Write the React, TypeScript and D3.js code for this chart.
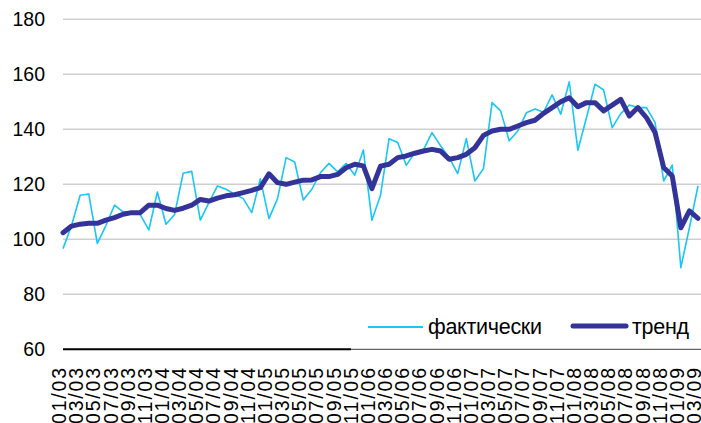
import React from "react";
import * as d3 from "d3";

const categories: string[] = [
  "01/03","02/03","03/03","04/03","05/03","06/03","07/03","08/03","09/03","10/03","11/03","12/03",
  "01/04","02/04","03/04","04/04","05/04","06/04","07/04","08/04","09/04","10/04","11/04","12/04",
  "01/05","02/05","03/05","04/05","05/05","06/05","07/05","08/05","09/05","10/05","11/05","12/05",
  "01/06","02/06","03/06","04/06","05/06","06/06","07/06","08/06","09/06","10/06","11/06","12/06",
  "01/07","02/07","03/07","04/07","05/07","06/07","07/07","08/07","09/07","10/07","11/07","12/07",
  "01/08","02/08","03/08","04/08","05/08","06/08","07/08","08/08","09/08","10/08","11/08","12/08",
  "01/09","02/09","03/09",
];

const tickLabels: string[] = categories.filter((_, i) => i % 2 === 0);

const actual: number[] = [
  96.6, 105, 116, 116.5, 98.5, 105, 112.4, 110, 110, 109, 103.4, 117.2,
  105.5, 109, 124, 124.7, 107, 113.3, 119.4, 118.2, 116.4, 114.8, 109.7, 122,
  107.5, 114.8, 129.7, 128.1, 114.3, 118.2, 124.2, 127.6, 124.5, 127.6, 123.3, 132.5,
  106.9, 116, 136.6, 135.2, 126.9, 131.5, 132.5, 138.8, 134, 129.7, 123.9, 136.6,
  121.2, 125.7, 149.7, 146.7, 135.8, 139.4, 146, 147.4, 146.2, 152.5, 145.5, 157.3,
  132.4, 144.2, 156.4, 154.3, 140.6, 145.7, 148.8, 147.9, 147.9, 142.4, 121.2, 127,
  89.7, 104.2, 119.4,
];

const trend: number[] = [
  102.4, 104.8, 105.5, 105.8, 105.8, 107, 107.9, 109.1, 109.7, 109.7, 112.4, 112.4,
  111.2, 110.5, 111.3, 112.4, 114.5, 113.9, 115, 115.8, 116.2, 117, 117.8, 118.8,
  123.8, 120.6, 120, 120.8, 121.5, 121.6, 122.8, 122.8, 123.6, 126, 127.3, 126.7,
  118.4, 126.6, 127.3, 129.7, 130.3, 131.3, 132.1, 132.7, 132.1, 129.1, 129.7, 130.9,
  133.3, 137.8, 139.4, 140, 140, 141.2, 142.4, 143.3, 145.8, 147.9, 150, 151.5,
  148.2, 149.7, 149.7, 146.7, 148.8, 150.9, 144.8, 147.9, 144.2, 138.8, 126.1, 123,
  104.2, 110.3, 107.6,
];

const yTicks: number[] = [60, 80, 100, 120, 140, 160, 180];
const seriesNames: string[] = ["фактически", "тренд"];

const W = 701;
const H = 423;
const FONT = "'Liberation Sans', Arial, sans-serif";

export default function App() {
  const x = d3.scalePoint<string>().domain(categories).range([63, 698]);
  const y = d3.scaleLinear().domain([60, 180]).range([349.3, 19.3]);

  const line = d3
    .line<number>()
    .x((_, i) => x(categories[i]) as number)
    .y((d) => y(d));

  const axisSplit = 351;

  return (
    <svg
      width={W}
      height={H}
      style={{ position: "absolute", left: 0, top: 0, background: "#fff" }}
      fontFamily={FONT}
    >
      <rect x={0} y={0} width={W} height={H} fill="#fff" />
      {yTicks.filter((t) => t !== 60).map((t) => (
        <line key={t} x1={63} x2={W} y1={y(t)} y2={y(t)} stroke="#cfcfcf" strokeWidth={1.5} />
      ))}
      {yTicks.map((t) => (
        <text key={"l" + t} x={45} y={y(t)} dy="0.36em" textAnchor="end" fontSize={19.5} fill="#000">
          {t}
        </text>
      ))}
      <line x1={63} x2={axisSplit} y1={y(60)} y2={y(60)} stroke="#000" strokeWidth={2} />
      <line x1={axisSplit} x2={W} y1={y(60)} y2={y(60)} stroke="#666" strokeWidth={1.3} />

      {tickLabels.map((lab) => {
        const px = (x(lab) as number) - 4;
        return (
          <text
            key={lab}
            transform={`translate(${px},368) rotate(-90)`}
            textAnchor="end"
            dy="0.36em"
            fontSize={19.5}
            textLength={56}
            lengthAdjust="spacing"
            fill="#000"
          >
            {lab}
          </text>
        );
      })}

      <path d={line(actual) || ""} fill="none" stroke="#19C6F7" strokeWidth={1.6} strokeLinejoin="round" />
      <path d={line(trend) || ""} fill="none" stroke="#333399" strokeWidth={5} strokeLinejoin="round" strokeLinecap="round" />

      <line x1={368} x2={423} y1={327} y2={327} stroke="#19C6F7" strokeWidth={2} />
      <text x={428} y={334} fontSize={21.5} textLength={114} lengthAdjust="spacing" fill="#000">
        {seriesNames[0]}
      </text>
      <line x1={573} x2={626} y1={326} y2={326} stroke="#333399" strokeWidth={5} strokeLinecap="round" />
      <text x={632} y={334} fontSize={21.5} textLength={57} lengthAdjust="spacing" fill="#000">
        {seriesNames[1]}
      </text>
    </svg>
  );
}
